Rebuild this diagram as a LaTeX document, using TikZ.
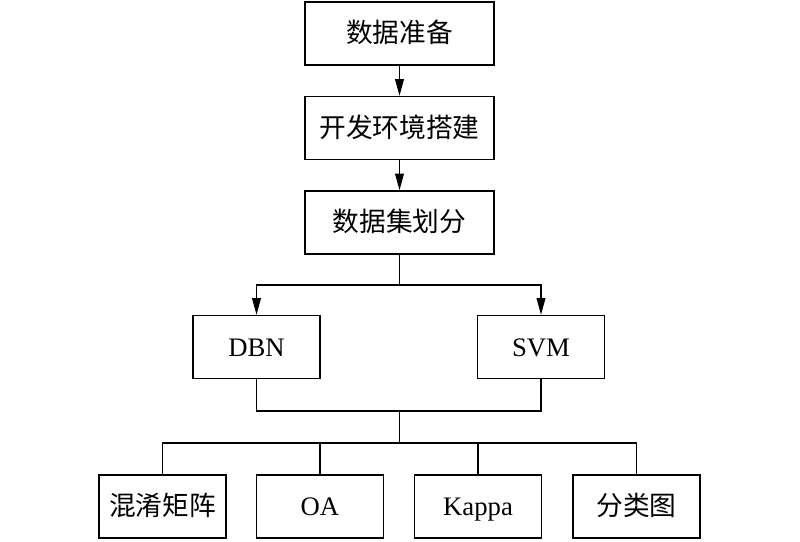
\documentclass[tikz,border=0pt]{standalone}
\usepackage{fontspec}
\setmainfont{Liberation Serif}
\newfontfamily\cjk{Noto Sans CJK SC}
\usetikzlibrary{arrows.meta}

\tikzset{
  stepbox/.style={draw, line width=0.035cm, minimum width=4.725cm, minimum height=1.575cm, inner sep=0pt, text height=13pt, text depth=0pt, font=\fontsize{19}{22}\selectfont},
  smallbox/.style={stepbox, minimum width=3.175cm},
  link/.style={line width=0.035cm},
  arr/.style={link, -{Triangle[width=0.22cm,length=0.42cm]}}
}

\begin{document}
\begin{tikzpicture}
                        \useasboundingbox (0,0) rectangle (20.000000,13.525000);

                        % Main steps
                        \node [stepbox] (prep) at (9.987500,12.687500) {\cjk 数据准备};
                        \node [stepbox] (env) at (9.987500,10.325000) {\cjk 开发环境搭建};
                        \node [stepbox] (split) at (9.987500,7.962500) {\cjk 数据集划分};

                        % Models
                        \node [smallbox] (dbn) at (6.412500,4.850000) {DBN};
                        \node [smallbox] (svm) at (13.525000,4.850000) {SVM};

                        % Evaluation
                        \node [smallbox] (cm) at (4.062500,0.862500) {\cjk 混淆矩阵};
                        \node [smallbox] (oa) at (8.000000,0.862500) {OA};
                        \node [smallbox] (kappa) at (11.950000,0.862500) {Kappa};
                        \node [smallbox] (map) at (15.912500,0.862500) {\cjk 分类图};

                        % Junction points
                        \coordinate (fork) at (9.987500,6.400000);
                        \coordinate (join) at (9.987500,3.250000);
                        \coordinate (fan) at (9.987500,2.450000);

                        % Arrows between steps
                        \draw [arr] (prep) -- (env);
                        \draw [arr] (env) -- (split);

                        % Branch to models
                        \draw [link] (split) -- (fork);
                        \draw [arr] (fork) -| (dbn);
                        \draw [arr] (fork) -| (svm);

                        % Join models
                        \draw [link] (dbn) |- (join) -| (svm);
                        \draw [link] (join) -- (fan);

                        % Fan out to evaluation
                        \draw [link] (fan) -| (cm);
                        \draw [link] (fan) -| (oa);
                        \draw [link] (fan) -| (kappa);
                        \draw [link] (fan) -| (map);
                    \end{tikzpicture}
\end{document}
